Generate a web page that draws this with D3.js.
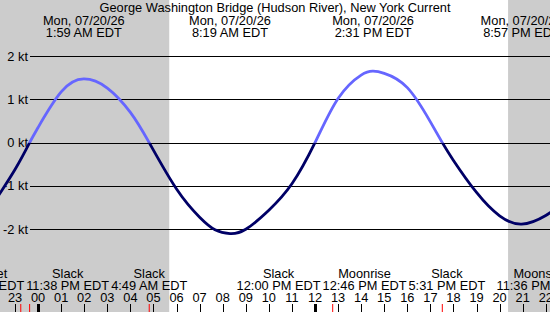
<!DOCTYPE html>
<html>
<head>
<meta charset="utf-8">
<script src="https://cdn.jsdelivr.net/npm/d3@7"></script>
<style>
  html, body { margin: 0; padding: 0; background: #fff; }
  svg { display: block; }
  text { font-family: "Liberation Sans", Arial, sans-serif; font-size: 12.8px; fill: #000; }
</style>
</head>
<body>
<svg id="chart" width="550" height="312"></svg>
<script>
// ---------------- data ----------------
const title = "George Washington Bridge (Hudson River), New York Current";
const yTickValues = [2, 1, 0, -1, -2];
const yTickUnit = " kt";

// current speed (knots, + = flood, - = ebb)
const curveTimes = [
  "2026-07-19 22:00", "2026-07-19 23:00", "2026-07-19 23:38", "2026-07-20 00:00",
  "2026-07-20 01:00", "2026-07-20 01:59", "2026-07-20 03:00", "2026-07-20 04:00",
  "2026-07-20 04:49", "2026-07-20 06:00", "2026-07-20 07:00", "2026-07-20 07:40",
  "2026-07-20 08:19", "2026-07-20 09:00", "2026-07-20 10:00",
  "2026-07-20 11:00", "2026-07-20 12:00", "2026-07-20 13:00", "2026-07-20 14:00",
  "2026-07-20 14:31", "2026-07-20 15:00", "2026-07-20 16:00", "2026-07-20 17:00",
  "2026-07-20 17:31", "2026-07-20 18:00", "2026-07-20 19:00", "2026-07-20 20:00",
  "2026-07-20 20:57", "2026-07-20 22:00", "2026-07-20 23:00"
];
const curveValues = [
  -1.45, -0.62, 0.00, 0.35,
  1.17, 1.47, 1.26, 0.70,
  0.00, -1.07, -1.72, -2.01,
  -2.10, -2.00, -1.56,
  -0.95, 0.00, 1.02, 1.56,
  1.65, 1.60, 1.27, 0.48,
  0.00, -0.41, -1.15, -1.69,
  -1.88, -1.68, -1.30
];

// max flood / max ebb events (labelled at top)
const peakTimes = ["2026-07-20 01:59", "2026-07-20 08:19", "2026-07-20 14:31", "2026-07-20 20:57"];

// slack & moon events (labelled at bottom)
const eventNames = ["Moonset", "Slack", "Slack", "Slack", "Moonrise", "Slack", "Moonset"];
const eventTimes = ["2026-07-19 23:15", "2026-07-19 23:38", "2026-07-20 04:49", "2026-07-20 12:00",
                    "2026-07-20 12:46", "2026-07-20 17:31", "2026-07-20 23:36"];

// daylight
const sunriseTime = "2026-07-20 05:41";
const sunsetTime  = "2026-07-20 20:22";
const viewStart = "2026-07-19 22:21";
const viewEnd   = "2026-07-20 22:11";
const tzLabel = " EDT";

// ---------------- drawing ----------------
(function () {
const W = 550, H = 312;
const parse = d3.timeParse("%Y-%m-%d %H:%M");
const fmtTime = d3.timeFormat("%-I:%M %p");
const fmtDate = d3.timeFormat("%a, %m/%d/%y");
const fmtHour = d3.timeFormat("%H");

const svg = d3.select("#chart");

const x = d3.scaleTime().domain([parse(viewStart), parse(viewEnd)]).range([0, W]);
const y = d3.scaleLinear().domain([-2, 2]).range([229.3, 56]);

// night shading
const nights = [[parse(viewStart), parse(sunriseTime)], [parse(sunsetTime), parse(viewEnd)]];
svg.append("g").selectAll("rect").data(nights).join("rect")
  .attr("x", d => x(d[0])).attr("y", 0)
  .attr("width", d => x(d[1]) - x(d[0])).attr("height", H)
  .attr("fill", "#cccccc");

// gridlines + y labels
const grid = svg.append("g");
grid.selectAll("line").data(yTickValues).join("line")
  .attr("x1", 30).attr("x2", W)
  .attr("y1", d => Math.round(y(d)) + 0.5).attr("y2", d => Math.round(y(d)) + 0.5)
  .attr("stroke", "#000").attr("stroke-width", 1);
grid.selectAll("text").data(yTickValues).join("text")
  .attr("x", 28).attr("y", d => y(d) + 4.5)
  .attr("text-anchor", "end")
  .text(d => d + yTickUnit);

// curve split by sign
const pts = curveTimes.map((t, i) => ({ t: parse(t), v: curveValues[i] }));
const line = d3.line().x(d => x(d.t)).y(d => y(d.v)).curve(d3.curveNatural);
const defs = svg.append("defs");
defs.append("clipPath").attr("id", "above").append("rect")
  .attr("x", 0).attr("y", 0).attr("width", W).attr("height", y(0));
defs.append("clipPath").attr("id", "below").append("rect")
  .attr("x", 0).attr("y", y(0)).attr("width", W).attr("height", H - y(0));
svg.append("path").datum(pts).attr("d", line)
  .attr("fill", "none").attr("stroke", "#6666ff").attr("stroke-width", 2.8)
  .attr("clip-path", "url(#above)");
svg.append("path").datum(pts).attr("d", line)
  .attr("fill", "none").attr("stroke", "#000066").attr("stroke-width", 2.8)
  .attr("clip-path", "url(#below)");

// title
svg.append("text").attr("x", W / 2).attr("y", 12).attr("text-anchor", "middle").text(title);

// top peak labels
const peaks = peakTimes.map(parse);
const topG = svg.append("g").selectAll("g").data(peaks).join("g");
topG.append("text").attr("x", d => x(d)).attr("y", 24.5).attr("text-anchor", "middle").text(d => fmtDate(d));
topG.append("text").attr("x", d => x(d)).attr("y", 36.5).attr("text-anchor", "middle").text(d => fmtTime(d) + tzLabel);

// hour ticks
const hours = d3.timeHour.range(d3.timeHour.ceil(parse(viewStart)), parse(viewEnd));
const events = eventTimes.map((t, i) => ({ t: parse(t), name: eventNames[i] }));

// red event ticks
svg.append("g").selectAll("line").data(events).join("line")
  .attr("x1", d => x(d.t)).attr("x2", d => x(d.t))
  .attr("y1", 304).attr("y2", H)
  .attr("stroke", "#ff0000").attr("stroke-width", 1);

svg.append("g").selectAll("line").data(hours).join("line")
  .attr("x1", d => Math.round(x(d)) + 0.5).attr("x2", d => Math.round(x(d)) + 0.5)
  .attr("y1", 304).attr("y2", H)
  .attr("stroke", "#000")
  .attr("stroke-width", d => (d.getHours() % 12 === 0 ? 3 : 1));
svg.append("g").selectAll("text").data(hours).join("text")
  .attr("x", d => x(d)).attr("y", 301.5).attr("text-anchor", "middle")
  .text(d => fmtHour(d));

// bottom event labels with overlap resolution
const measure = svg.append("text").attr("visibility", "hidden");
const widthOf = s => { measure.text(s); return measure.node().getComputedTextLength(); };
const labs = events.map(e => {
  const timeStr = fmtTime(e.t) + tzLabel;
  return { name: e.name, time: timeStr, c: x(e.t), w: Math.max(widthOf(timeStr), widthOf(e.name)) };
});
measure.remove();
const gap = 2;
for (let iter = 0; iter < 60; iter++) {
  for (let i = 0; i < labs.length - 1; i++) {
    const a = labs[i], b = labs[i + 1];
    const ov = (a.c + a.w / 2 + gap) - (b.c - b.w / 2);
    if (ov > 0) { a.c -= ov / 2; b.c += ov / 2; }
  }
}
labs.forEach(l => { if (l.c > W) l.c = W - 12; });
const bot = svg.append("g").selectAll("g").data(labs).join("g");
bot.append("text").attr("x", d => d.c).attr("y", 278).attr("text-anchor", "middle").text(d => d.name);
bot.append("text").attr("x", d => d.c).attr("y", 290).attr("text-anchor", "middle").text(d => d.time);
})();
</script>
</body>
</html>
